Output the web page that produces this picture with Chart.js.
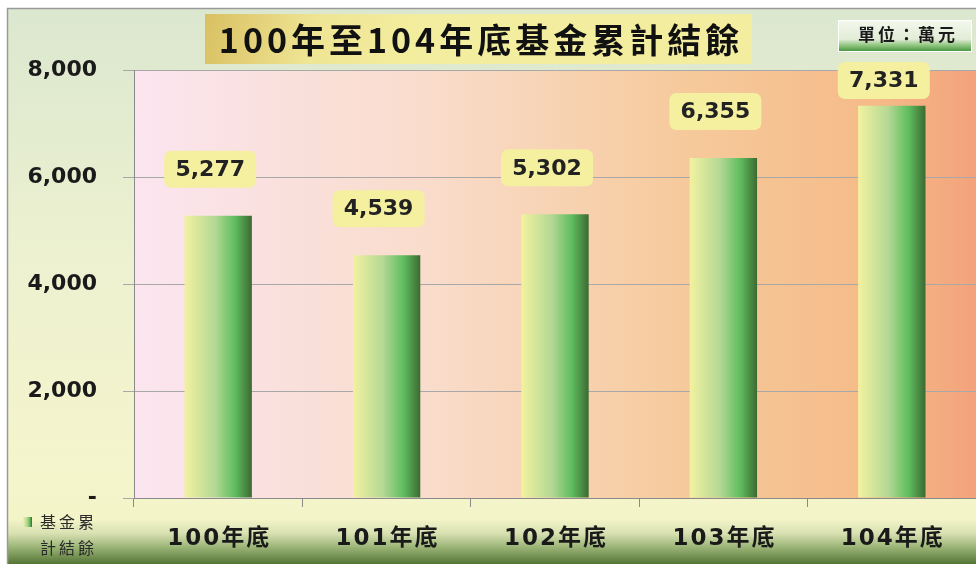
<!DOCTYPE html>
<html>
<head>
<meta charset="utf-8">
<script src="https://cdn.jsdelivr.net/npm/chart.js@4/dist/chart.umd.min.js"></script>
<style>
    body { margin: 0; background: #fff; }
    #wrap { width: 976px; height: 564px; }
</style>
</head>
<body>
<div id="wrap"><canvas id="fundChart" width="976" height="564"></canvas></div>
<script>
const categories = ["100年底", "101年底", "102年底", "103年底", "104年底"];
const fundBalance = [5277, 4539, 5302, 6355, 7331];
const yTicks = [0, 2000, 4000, 6000, 8000];
const seriesName = ["基金累", "計結餘"];
const titleText = "100年至104年底基金累計結餘";
const unitText = "單位：萬元";

const NUM_FONT = "'DejaVu Sans', 'Noto Sans CJK TC', sans-serif";
const CJK_FONT = "'Noto Sans CJK TC', 'DejaVu Sans', sans-serif";

function barGradient(ctx, x0, x1) {
    const g = ctx.createLinearGradient(x0, 0, x1, 0);
    g.addColorStop(0, "#f2f2a0");
    g.addColorStop(0.45, "#b4d894");
    g.addColorStop(0.75, "#5fbd5f");
    g.addColorStop(1, "#3c6a32");
    return g;
}

const backdrop = {
    id: "backdrop",
    beforeDraw(chart) {
        const ctx = chart.ctx;
        const a = chart.chartArea;
        ctx.save();
        ctx.fillStyle = "#fff";
        ctx.fillRect(0, 0, chart.width, chart.height);

        // outer panel
        const pg = ctx.createLinearGradient(0, 8, 0, chart.height);
        pg.addColorStop(0, "#dbe7cf");
        pg.addColorStop(0.45, "#edf1d0");
        pg.addColorStop(0.85, "#f5f5cc");
        pg.addColorStop(0.92, "#f3f4c8");
        pg.addColorStop(0.945, "#d8e0b2");
        pg.addColorStop(0.97, "#9ab476");
        pg.addColorStop(1, "#557535");
        ctx.fillStyle = pg;
        ctx.fillRect(7, 8, chart.width - 7, chart.height - 8);
        ctx.strokeStyle = "#9a9a9a";
        ctx.lineWidth = 1.5;
        ctx.beginPath();
        ctx.moveTo(7.5, chart.height);
        ctx.lineTo(7.5, 8.5);
        ctx.lineTo(chart.width, 8.5);
        ctx.stroke();

        // plot area
        const ag = ctx.createLinearGradient(a.left, 0, a.right, 0);
        ag.addColorStop(0, "#fbe5ef");
        ag.addColorStop(0.35, "#f9dccb");
        ag.addColorStop(0.65, "#f6ca9c");
        ag.addColorStop(0.88, "#f5bb88");
        ag.addColorStop(1, "#f3a27b");
        ctx.fillStyle = ag;
        ctx.fillRect(a.left, a.top, a.right - a.left, a.bottom - a.top);
        ctx.restore();
    },
    afterDraw(chart) {
        const ctx = chart.ctx;
        ctx.save();

        // title box
        const tg = ctx.createLinearGradient(205, 14, 420, 64);
        tg.addColorStop(0, "#d9c062");
        tg.addColorStop(0.5, "#efe594");
        tg.addColorStop(1, "#f3ee9f");
        ctx.fillStyle = tg;
        ctx.fillRect(205, 14, 547, 50);
        ctx.fillStyle = "#111";
        ctx.font = "bold 34px " + CJK_FONT;
        ctx.letterSpacing = "4px";
        ctx.textAlign = "center";
        ctx.textBaseline = "middle";
        ctx.fillText(titleText, 481, 40);

        // unit box
        const ug = ctx.createLinearGradient(0, 20, 0, 52);
        ug.addColorStop(0, "#f4f8ee");
        ug.addColorStop(0.6, "#e2ecd6");
        ug.addColorStop(0.8, "#8cc47c");
        ug.addColorStop(1, "#3f8f3a");
        ctx.fillStyle = ug;
        ctx.fillRect(838, 20, 134, 32);
        ctx.strokeStyle = "#ffffff";
        ctx.lineWidth = 1;
        ctx.strokeRect(838.5, 20.5, 133, 31);
        ctx.fillStyle = "#1a1a1a";
        ctx.font = "bold 17px " + CJK_FONT;
        ctx.letterSpacing = "3px";
        ctx.fillText(unitText, 908, 35);

        // legend
        ctx.fillStyle = barGradient(ctx, 23, 32);
        ctx.fillRect(23, 517, 9, 10);
        ctx.fillStyle = "#2a2a2a";
        ctx.font = "16px " + CJK_FONT;
        ctx.letterSpacing = "3px";
        ctx.textAlign = "left";
        ctx.fillText(seriesName[0], 40, 522);
        ctx.fillText(seriesName[1], 40, 548);

        // category labels
        const xs = chart.scales.x;
        ctx.fillStyle = "#1a1a1a";
        ctx.font = "bold 23px " + NUM_FONT;
        ctx.letterSpacing = "2px";
        ctx.textAlign = "center";
        categories.forEach((c, i) => {
            ctx.fillText(c, xs.getPixelForValue(i) + 1, 539);
        });
        ctx.letterSpacing = "0px";
        ctx.restore();
    }
};

const valueLabels = {
    id: "valueLabels",
    afterDatasetsDraw(chart) {
        const ctx = chart.ctx;
        const meta = chart.getDatasetMeta(0);
        const top = chart.chartArea.top - 8;
        ctx.save();
        ctx.font = "bold 22px " + NUM_FONT;
        ctx.textAlign = "center";
        ctx.textBaseline = "middle";
        meta.data.forEach((bar, i) => {
            const text = fundBalance[i].toLocaleString("en-US");
            const cx = bar.x - 8;
            const w = 92, h = 37;
            const y0 = Math.max(bar.y - 28 - h, top);
            ctx.fillStyle = "#f4f0a0";
            ctx.beginPath();
            ctx.roundRect(cx - w / 2, y0, w, h, 7);
            ctx.fill();
            ctx.fillStyle = "#222";
            ctx.fillText(text, cx, y0 + h / 2 + 1);
        });
        ctx.restore();
    }
};

new Chart(document.getElementById("fundChart"), {
    type: "bar",
    data: {
        labels: categories,
        datasets: [{
            label: seriesName.join(""),
            data: fundBalance,
            backgroundColor: (c) => {
                const chart = c.chart;
                if (!chart.chartArea || !chart.scales.x) return "#7cc06c";
                const x = chart.scales.x.getPixelForValue(c.dataIndex);
                const half = chart.chartArea.width / categories.length * 0.4 / 2;
                return barGradient(chart.ctx, x - half, x + half);
            },
            borderWidth: 0,
            categoryPercentage: 1,
            barPercentage: 0.4
        }]
    },
    options: {
        responsive: false,
        animation: false,
        layout: { padding: { top: 70, left: 0, right: 0, bottom: 0 } },
        plugins: {
            legend: { display: false },
            tooltip: { enabled: false }
        },
        scales: {
            x: {
                afterFit: (s) => { s.height = 66; },
                grid: { drawOnChartArea: false, drawTicks: true, tickLength: 9, color: "#8a8a8a", offset: true },
                border: { color: "#8a8a8a" },
                ticks: { display: false }
            },
            y: {
                min: 0,
                max: 8000,
                afterFit: (s) => { s.width = 134; },
                afterBuildTicks: (s) => { s.ticks = yTicks.map(v => ({ value: v })); },
                grid: { color: "#a8a8a8", tickLength: 11 },
                border: { color: "#8a8a8a" },
                ticks: {
                    color: "#1a1a1a",
                    padding: 26,
                    font: { family: NUM_FONT, size: 22, weight: "bold" },
                    callback: (v) => v === 0 ? "-" : v.toLocaleString("en-US")
                }
            }
        }
    },
    plugins: [backdrop, valueLabels]
});
</script>
</body>
</html>
